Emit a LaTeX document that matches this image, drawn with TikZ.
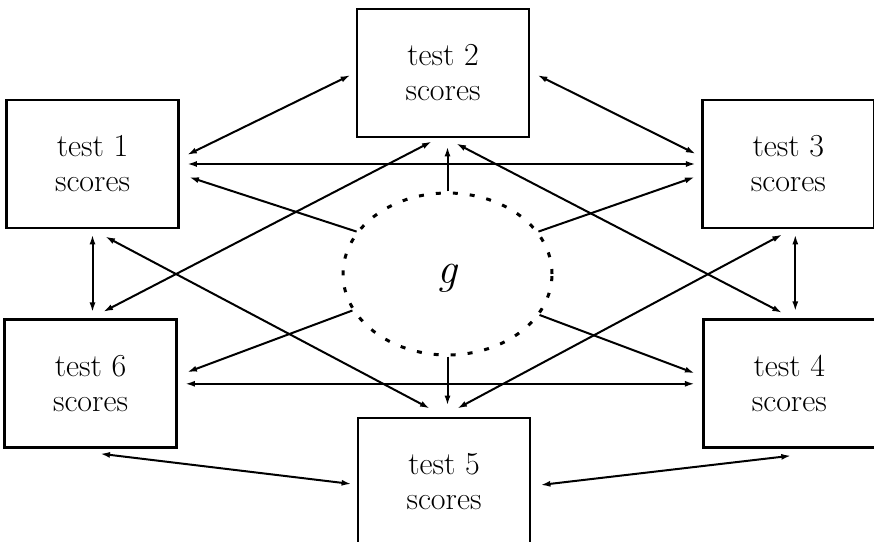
\documentclass[tikz,border=0pt]{standalone}
\usepackage{tikz}
\usetikzlibrary{arrows.meta,positioning,shapes,calc}

\begin{document}
\begin{tikzpicture}[
    x=1pt, y=1pt,
    box/.style={rectangle, draw, line width=2.8pt, minimum width=172pt, minimum height=128pt, inner sep=0pt, font=\fontsize{32}{35}\selectfont, align=center},
    factor/.style={ellipse, draw, line width=3pt, dash pattern=on 5pt off 12pt, minimum width=209pt, minimum height=162pt, inner sep=0pt, font=\fontsize{44}{48}\selectfont\itshape},
    link/.style={{Latex[length=10pt,width=6pt]}-{Latex[length=10pt,width=6pt]}, line width=2pt},
    load/.style={-{Latex[length=10pt,width=6pt]}, line width=2pt}
]
    \clip (0,0) rectangle (874,541);

    % General factor (centre)
    \node[factor] (g) at (447.5,267) {\raisebox{-10pt}[0pt][0pt]{g}};

    % Tests (round the factor)
    \node[box] (test1) at (92.5,377) {test 1\\scores};
    \node[box, right=521pt of test1] (test3) {test 3\\scores};
    \node[box] (test2) at (443,468) {test 2\\scores};
    \node[box, below=89pt of test1, xshift=-2pt] (test6) {test 6\\scores};
    \node[box, below=89pt of test3, xshift=1pt] (test4) {test 4\\scores};
    \node[box] (test5) at (444,59) {test 5\\scores};

    % Loadings from g (single heads)
    \draw[load] (g.155) -- ($(test1.east)+(9,-13)$);
    \draw[load, shorten >=8pt] (g.north) -- (g.north |- test2.south);
    \draw[load] (g.25) -- ($(test3.west)+(-6,-13)$);
    \draw[load] (g.-24) -- ($(test4.west)+(-7,10.5)$);
    \draw[load, shorten >=11pt] (g.south) -- (g.south |- test5.north);
    \draw[load] (g.201) -- ($(test6.east)+(9,11.5)$);

    % Correlations between tests (double heads)
    \draw[link] ($(test1.east)+(7,9)$) -- ($(test2.west)+(-5,-2)$);
    \draw[link] ($(test2.east)+(7,-2)$) -- ($(test3.west)+(-5,10)$);
    \draw[link, shorten <=7pt, shorten >=5pt] (test1.east) -- (test3.west);
    \draw[link, shorten <=7pt, shorten >=7pt] (test6.east) -- (test6.east -| test4.west);
    \draw[link, shorten <=5pt, shorten >=6pt] (test1.south) -- (test1.south |- test6.north);
    \draw[link, shorten <=5pt, shorten >=7pt] ([xshift=7pt]test3.south) -- ([xshift=7pt]test3.south |- test4.north);
    \draw[link] ($(test6.south)+(9.5,-4.5)$) -- ($(test5.west)+(-5,-2)$);
    \draw[link] ($(test5.east)+(9,-3)$) -- ($(test4.south)+(2,-6.5)$);
    \draw[link] ($(test1.south)+(12.5,-7)$) -- ($(test5.north)+(-14,8)$);
    \draw[link] ($(test6.north)+(12.5,6.5)$) -- ($(test2.south)+(-11,-3)$);
    \draw[link] ($(test2.south)+(13,-5)$) -- ($(test4.north)+(-7,5.5)$);
    \draw[link] ($(test5.north)+(13,8)$) -- ($(test3.south)+(-6,-5)$);

\end{tikzpicture}
\end{document}
